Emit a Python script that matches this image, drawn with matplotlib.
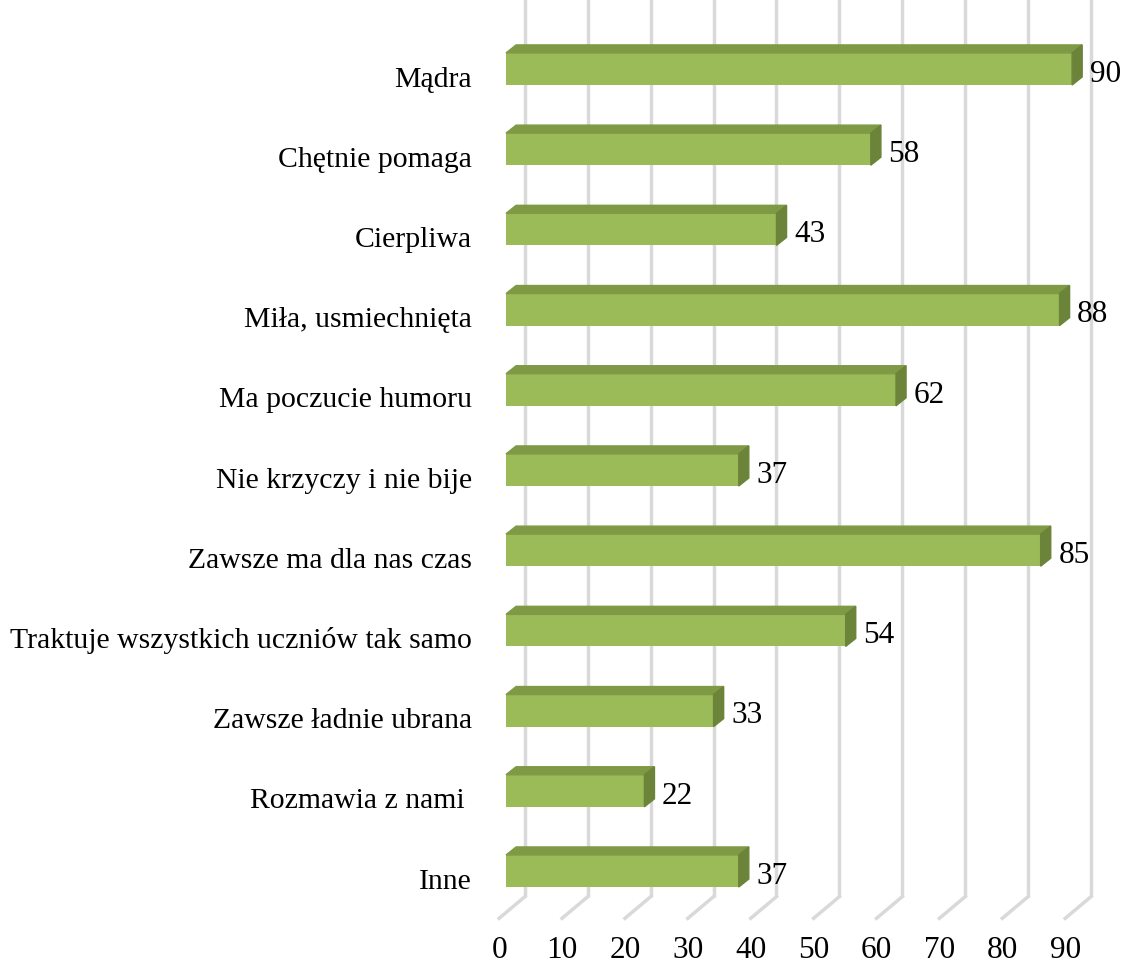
import numpy as np
import matplotlib
matplotlib.use("Agg")
import matplotlib.pyplot as plt
from matplotlib.patches import Polygon

# chart data
categories = ["Mądra", "Chętnie pomaga", "Cierpliwa", "Miła, usmiechnięta",
              "Ma poczucie humoru", "Nie krzyczy i nie bije", "Zawsze ma dla nas czas",
              "Traktuje wszystkich uczniów tak samo", "Zawsze ładnie ubrana",
              "Rozmawia z nami ", "Inne"]
values = [90, 58, 43, 88, 62, 37, 85, 54, 33, 22, 37]
xticks = [0, 10, 20, 30, 40, 50, 60, 70, 80, 90]

# 3d look (data units)
bar_h = 0.4
depth_x = 1.6
depth_y = -0.1
wall_dx = 3.0      # back wall offset of gridlines
floor_dx = -4.1    # floor diagonal
floor_back = 10.32
floor_front = 10.59

front = "#9BBB59"
top = "#7F9A45"
side = "#6B843A"
grid = "#D9D9D9"

plt.rcParams['font.family'] = ['Liberation Serif', 'DejaVu Serif']

fig = plt.figure(figsize=(11.23, 9.65), dpi=100)
ax = fig.add_axes([0, 0, 1, 1])
ax.set_xlim(-80.45, 98.09)
ax.set_ylim(11.172, -0.86)
ax.axis("off")

# gridlines on back wall + floor
for t in xticks:
    xb = t + wall_dx
    ax.plot([xb, xb], [-1, floor_back], color=grid, lw=2.5, zorder=1, solid_capstyle='butt')
    ax.plot([xb, xb + floor_dx], [floor_back, floor_front], color=grid, lw=2.5, zorder=1)
    ax.text(xb + floor_dx, 11.085, str(t), ha="center", va="baseline", fontsize=22.5)

y = np.arange(len(categories))
ax.barh(y, values, height=bar_h, left=0, color=front, zorder=3)
for i, v in enumerate(values):
    y0, y1 = i - bar_h / 2, i + bar_h / 2
    ax.add_patch(Polygon([[0, y0], [v, y0], [v + depth_x, y0 + depth_y],
                          [depth_x, y0 + depth_y]], closed=True, color=top, zorder=3))
    ax.add_patch(Polygon([[v, y0], [v, y1], [v + depth_x, y1 + depth_y],
                          [v + depth_x, y0 + depth_y]], closed=True, color=side, zorder=3))
    ax.text(v + depth_x + 1.2, i + 0.16, str(v), ha="left", va="baseline", fontsize=22.5)
    ax.text(-5.4, i + 0.22, categories[i], ha="right", va="baseline", fontsize=21.4)

fig.savefig("out.png", dpi=100)
